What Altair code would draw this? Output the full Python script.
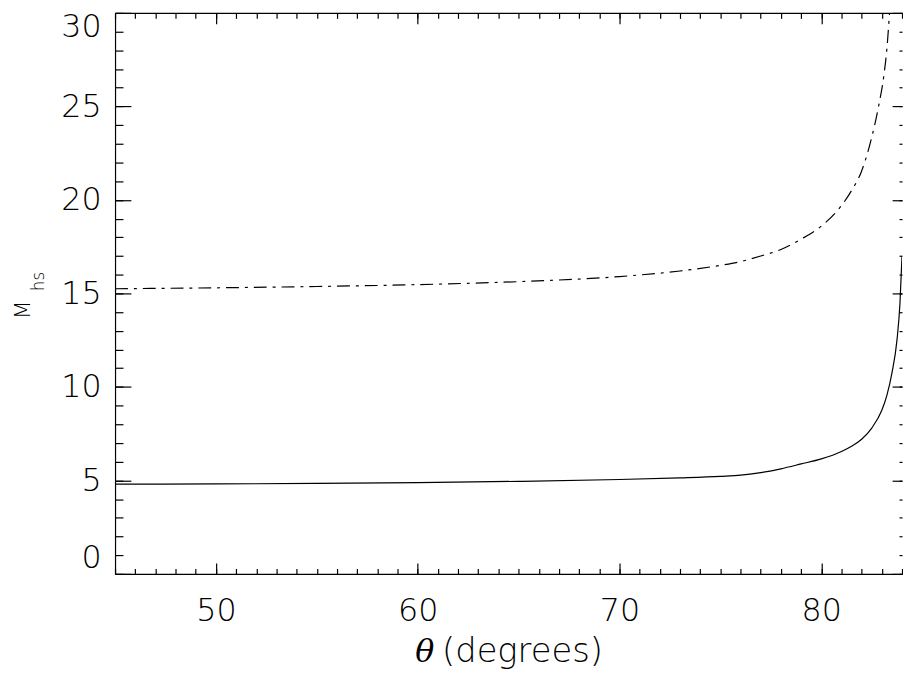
import altair as alt
import pandas as pd

# ---- data ----
theta_solid = [45, 50, 55, 60, 65, 70, 73, 75, 76, 77, 78, 79, 80, 81, 81.5, 82, 82.5, 83, 83.25, 83.5, 83.75, 83.9, 84]
m_solid = [4.80, 4.81, 4.84, 4.88, 4.95, 5.05, 5.14, 5.22, 5.28, 5.42, 5.62, 5.88, 6.15, 6.55, 6.83, 7.2, 7.8, 8.75, 9.55, 10.74, 12.5, 14.5, 17.0]

theta_dash = [45, 50, 55, 60, 65, 70, 73, 75, 76, 77, 78, 79, 80, 81, 81.5, 82, 82.5, 82.85, 83.1, 83.26, 83.37, 83.45]
m_dash = [15.25, 15.3, 15.37, 15.47, 15.63, 15.9, 16.2, 16.5, 16.7, 17.0, 17.35, 17.9, 18.6, 19.7, 20.5, 21.55, 23.35, 25.07, 26.65, 28.2, 29.8, 31.0]

x_major = [50, 60, 70, 80]
x_minor = list(range(45, 85))
y_major = [0, 5, 10, 15, 20, 25, 30]
y_minor = list(range(0, 31))

x_title_sym = "θ"
x_title_unit = "(degrees)"
y_title_main = "M"
y_title_sub = "hs"

solid = pd.DataFrame({"theta": theta_solid, "M": m_solid})
dash = pd.DataFrame({"theta": theta_dash, "M": m_dash})

FONT = "DejaVu Sans"
WEIGHT = 200
xs = alt.Scale(domain=[45, 84], nice=False, zero=False)
ys = alt.Scale(domain=[0, 30], nice=False, zero=False)


def tick_axis(orient, values, size):
    return alt.Axis(orient=orient, values=values, tickSize=size, offset=-size,
                    labels=False, domain=False, grid=False, title=None,
                    ticks=True, tickColor="black", tickWidth=1.2)


def enc(xaxis, yaxis):
    return dict(
        x=alt.X("theta:Q", scale=xs, axis=xaxis),
        y=alt.Y("M:Q", scale=ys, axis=yaxis),
    )


x_label_axis = alt.Axis(orient="bottom", values=x_major, ticks=False, tickSize=0,
                        labelPadding=22, domain=True, domainColor="black",
                        domainWidth=1.2, grid=False, title=None)
y_label_axis = alt.Axis(orient="left", values=y_major, ticks=False, tickSize=0,
                        labelPadding=14, labelFlush=True, labelFlushOffset=1,
                        domain=True, domainColor="black", domainWidth=1.2,
                        grid=False, title=None)
top_domain_axis = alt.Axis(orient="top", values=x_major, ticks=False, tickSize=0,
                           labels=False, domain=True, domainColor="black",
                           domainWidth=1.2, grid=False, title=None)

line_solid = alt.Chart(solid).mark_line(color="black", strokeWidth=1.2,
                                        interpolate="monotone", clip=True).encode(
    **enc(x_label_axis, y_label_axis))

line_dash = alt.Chart(dash).mark_line(color="black", strokeWidth=1.2,
                                      strokeDash=[13, 6, 3, 6],
                                      interpolate="monotone", clip=True).encode(
    **enc(tick_axis("bottom", x_major, 11), tick_axis("left", y_major, 16)))

inv = dict(color="black", strokeOpacity=0)
ax_c = alt.Chart(solid).mark_line(**inv).encode(
    **enc(tick_axis("bottom", x_minor, 5.5), tick_axis("left", y_minor, 8)))
ax_d = alt.Chart(solid).mark_line(**inv).encode(
    **enc(tick_axis("top", x_major, 11), tick_axis("right", y_major, 10)))
ax_e = alt.Chart(solid).mark_line(**inv).encode(
    **enc(tick_axis("top", x_minor, 5.5), tick_axis("right", y_minor, 3)))
ax_f = alt.Chart(solid).mark_line(**inv).encode(
    **enc(top_domain_axis, None))


def text_layer(txt, **kw):
    return alt.Chart(pd.DataFrame({"t": [txt]})).mark_text(color="black", **kw)


ytitle_m = text_layer(y_title_main, font=FONT, fontSize=22, fontWeight=WEIGHT,
                      angle=270, align="center", baseline="middle").encode(
    text="t:N", x=alt.value(-93), y=alt.value(299.5))
ytitle_s = text_layer(y_title_sub, font=FONT, fontSize=17, fontWeight=WEIGHT,
                      angle=270, align="center", baseline="middle").encode(
    text="t:N", x=alt.value(-77), y=alt.value(271))
xtitle_sym = text_layer(x_title_sym, font="DejaVu Serif", fontSize=32,
                        fontStyle="italic", fontWeight=300, align="left",
                        baseline="alphabetic").encode(
    text="t:N", x=alt.value(303), y=alt.value(655))
xtitle_unit = text_layer(x_title_unit, font=FONT, fontSize=34, fontWeight=WEIGHT,
                         align="left", baseline="alphabetic").encode(
    text="t:N", x=alt.value(330), y=alt.value(655))

chart = alt.layer(line_solid, line_dash, ax_c, ax_d, ax_e, ax_f,
                  ytitle_m, ytitle_s, xtitle_sym, xtitle_unit).resolve_axis(
    x="independent", y="independent"
).properties(
    width=794, height=566,
    autosize=alt.AutoSizeParams(type="none"),
    padding={"left": 108, "top": 2, "right": 1, "bottom": 95},
    background="white",
).configure_view(stroke=None).configure_axis(
    labelFont=FONT, labelFontSize=32, labelFontWeight=WEIGHT, labelColor="black",
    grid=False,
)

chart.save("out.html", embed_options={"renderer": "svg", "actions": False})
